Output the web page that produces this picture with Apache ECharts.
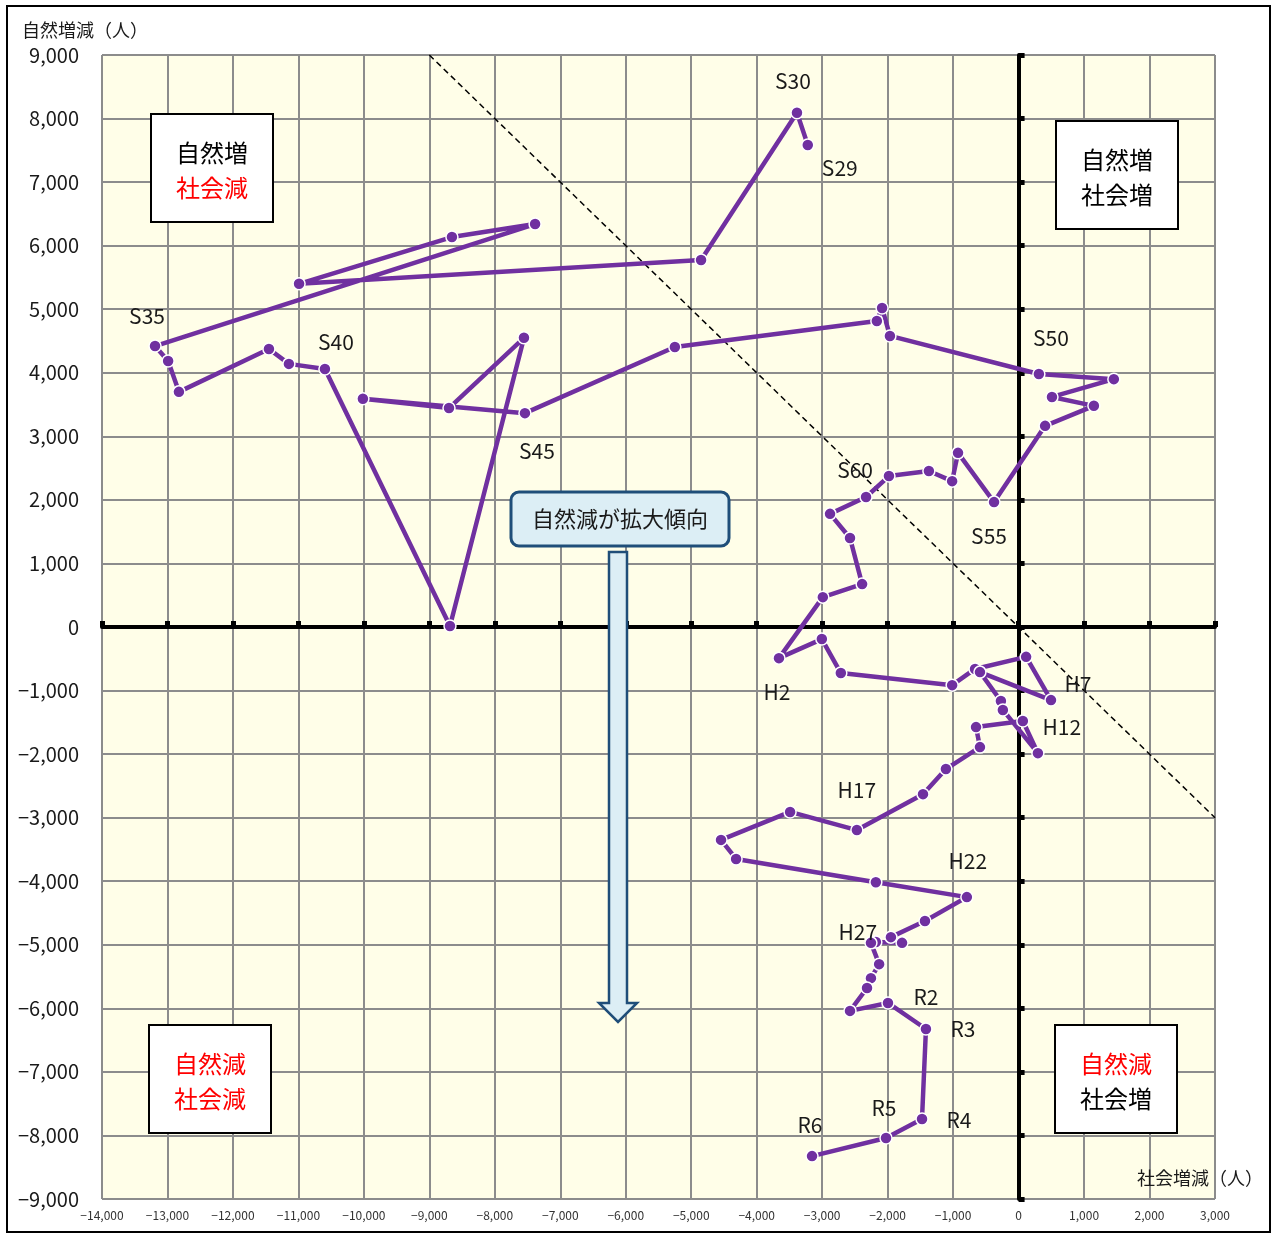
<!DOCTYPE html>
<html>
<head>
<meta charset="utf-8">
<title>自然増減と社会増減の推移</title>
<script src="https://cdn.jsdelivr.net/npm/echarts@6/dist/echarts.min.js"></script>
<style>
html, body { margin: 0; padding: 0; background: #fff; }
#main { width: 1274px; height: 1234px; }
</style>
</head>
<body>
<div id="main"></div>
<script>
// 社会増減（人）
var socialChange = [
  -3220, -3385, -4850, -10990, -8655, -7385, -13190, -12990, -12825, -11450,
  -11145, -10595, -8685, -7555, -8700, -10015, -7540, -5250, -2165, -2085,
  -1965, 310, 1455, 510, 1150, 405, -375, -925, -1015, -1370,
  -1980, -2330, -2880, -2575, -2390, -2990, -3660, -3005, -2715, -1015,
  -665, 115, 495, -590, -270, -240, 295, 65, -650, -590,
  -1110, -1460, -2470, -3490, -4545, -4315, -2180, -790, -1430, -1950,
  -1780, -2180, -2255, -2130, -2255, -2315, -2575, -1995, -1415, -1475,
  -2025, -3155
]
// 自然増減（人）
var naturalChange = [
  7585, 8090, 5775, 5400, 6135, 6340, 4420, 4185, 3700, 4375,
  4140, 4060, 15, 4550, 3445, 3590, 3365, 4405, 4815, 5020,
  4580, 3980, 3900, 3620, 3480, 3165, 1965, 2740, 2295, 2455,
  2375, 2045, 1780, 1400, 675, 470, -490, -190, -725, -915,
  -660, -470, -1150, -710, -1165, -1305, -1985, -1480, -1575, -1890,
  -2235, -2630, -3195, -2910, -3350, -3650, -4015, -4250, -4625, -4880,
  -4970, -4955, -4970, -5305, -5525, -5680, -6040, -5915, -6325, -7740,
  -8040, -8325
]
// 年次ラベル（表示するものだけ）
var pointLabels = [
  'S29', 'S30', '', '', '', '', 'S35', '', '', '',
  '', 'S40', '', '', '', '', 'S45', '', '', '',
  '', 'S50', '', '', '', '', 'S55', '', '', '',
  '', 'S60', '', '', '', '', 'H2', '', '', '',
  '', '', 'H7', '', '', '', '', 'H12', '', '',
  '', '', 'H17', '', '', '', '', 'H22', '', '',
  '', 'H27', '', '', '', '', '', 'R2', 'R3', 'R4',
  'R5', 'R6'
]
// 人口増減ゼロの線（自然増減 + 社会増減 = 0）
var zeroChangeLine = [[-9000, 9000], [3000, -3000]]
var xRange = [-14000, 3000]
var yRange = [-9000, 9000]
var tickStep = 1000

var fontName = '"Noto Sans CJK JP", "Noto Sans", sans-serif'

// ラベルの位置調整（点からのずれ、px）
var labelOffset = {
  S29: [32, 23], S30: [-4, -32], S35: [-8, -30], S40: [11, -27], S45: [12, 38],
  S50: [12, -36], S55: [-5, 34], S60: [-11, -27], H2: [-2, 34], H7: [27, -16],
  H12: [39, 6], H17: [0, -40], H22: [1, -36], H27: [-18, -10], R2: [38, -6],
  R3: [37, 0], R4: [37, 1], R5: [-2, -30], R6: [-2, -31]
}

function fmt (v) {
  var s = Math.abs(v).toLocaleString('en-US')
  return v < 0 ? '\u2212' + s : s
}

function quadrantBox (x, y, line1, color1, line2, color2) {
  return [
    {
      type: 'rect',
      z: 100,
      shape: { x: x, y: y, width: 122, height: 108 },
      style: { fill: '#fff', stroke: '#000', lineWidth: 2 }
    },
    {
      type: 'text',
      z: 101,
      x: x + 61,
      y: y + 39,
      style: { text: line1, fill: color1, font: '24px ' + fontName, align: 'center', verticalAlign: 'middle' }
    },
    {
      type: 'text',
      z: 101,
      x: x + 61,
      y: y + 74,
      style: { text: line2, fill: color2, font: '24px ' + fontName, align: 'center', verticalAlign: 'middle' }
    }
  ]
}

// ラベル付きの点だけ [x, y, index]
function labelData () {
  var list = []
  pointLabels.forEach(function (name, i) {
    if (name) list.push([socialChange[i], naturalChange[i], i])
  })
  return list
}

function renderLabel (params, api) {
  var p = api.coord([api.value(0), api.value(1)])
  var name = pointLabels[api.value(2)]
  var off = labelOffset[name] || [0, -28]
  return {
    type: 'text',
    x: p[0] + off[0],
    y: p[1] + off[1],
    style: {
      text: name,
      fill: '#1a1a1a',
      font: '21px ' + fontName,
      align: 'center',
      verticalAlign: 'middle'
    }
  }
}

function option () {
  var graphics = [
    {
      type: 'rect',
      z: 100,
      shape: { x: 7, y: 6, width: 1263, height: 1226 },
      style: { fill: 'none', stroke: '#000', lineWidth: 2 }
    },
    {
      type: 'text',
      x: 22,
      y: 30,
      style: { text: '自然増減（人）', fill: '#1a1a1a', font: '18px ' + fontName, verticalAlign: 'middle' }
    },
    {
      type: 'text',
      x: 1263,
      y: 1178,
      z: 100,
      style: { text: '社会増減（人）', fill: '#1a1a1a', font: '18px ' + fontName, align: 'right', verticalAlign: 'middle' }
    },
    {
      type: 'polygon',
      z: 100,
      shape: {
        points: [[609, 552], [627, 552], [627, 1003], [637, 1003], [618, 1022], [599, 1003], [609, 1003]]
      },
      style: { fill: '#dceef5', stroke: '#1f4e79', lineWidth: 2.5 }
    },
    {
      type: 'rect',
      z: 100,
      shape: { x: 511, y: 492, width: 218, height: 54, r: 8 },
      style: { fill: '#dceef5', stroke: '#1f4e79', lineWidth: 3 }
    },
    {
      type: 'text',
      z: 101,
      x: 620,
      y: 519,
      style: { text: '自然減が拡大傾向', fill: '#1a1a1a', font: '22px ' + fontName, align: 'center', verticalAlign: 'middle' }
    }
  ]
  graphics = graphics
    .concat(quadrantBox(151, 114, '自然増', '#000', '社会減', '#ff0000'))
    .concat(quadrantBox(1056, 121, '自然増', '#000', '社会増', '#000'))
    .concat(quadrantBox(149, 1025, '自然減', '#ff0000', '社会減', '#ff0000'))
    .concat(quadrantBox(1055, 1025, '自然減', '#ff0000', '社会増', '#000'))

  return {
    animation: false,
    backgroundColor: '#fff',
    textStyle: { fontFamily: fontName },
    grid: {
      left: 102,
      right: 59,
      top: 55,
      bottom: 35,
      show: true,
      backgroundColor: '#fffee8',
      borderWidth: 0,
      containLabel: false,
      outerBoundsMode: 'none'
    },
    xAxis: [
      {
        type: 'value',
        min: xRange[0],
        max: xRange[1],
        interval: tickStep,
        position: 'bottom',
        axisLine: { show: false, onZero: false },
        axisTick: { show: false },
        splitLine: { show: true, lineStyle: { color: '#8c8c8c', width: 2 } },
        axisLabel: { color: '#333', fontSize: 12, margin: 10, formatter: fmt }
      },
      {
        // 太い0の線
        type: 'value',
        min: xRange[0],
        max: xRange[1],
        interval: tickStep,
        axisLine: { show: true, onZero: true, onZeroAxisIndex: 0, lineStyle: { color: '#000', width: 4 } },
        axisTick: { show: true, length: 6, lineStyle: { color: '#000', width: 5 } },
        axisLabel: { show: false },
        splitLine: { show: false }
      }
    ],
    yAxis: [
      {
        type: 'value',
        min: yRange[0],
        max: yRange[1],
        interval: tickStep,
        position: 'left',
        axisLine: { show: false, onZero: false },
        axisTick: { show: false },
        splitLine: { show: true, lineStyle: { color: '#8c8c8c', width: 2 } },
        axisLabel: { color: '#1a1a1a', fontSize: 20, margin: 23, formatter: fmt }
      },
      {
        type: 'value',
        min: yRange[0],
        max: yRange[1],
        interval: tickStep,
        axisLine: { show: true, onZero: true, onZeroAxisIndex: 0, lineStyle: { color: '#000', width: 4 } },
        axisTick: { show: true, length: 6, lineStyle: { color: '#000', width: 5 } },
        axisLabel: { show: false },
        splitLine: { show: false }
      }
    ],
    series: [
      {
        type: 'line',
        xAxisIndex: 0,
        yAxisIndex: 0,
        z: 5,
        symbol: 'circle',
        symbolSize: 12,
        showAllSymbol: true,
        lineStyle: { color: '#7030a0', width: 4.5 },
        itemStyle: { color: '#7030a0', borderColor: '#fff', borderWidth: 1.5 },
        data: socialChange.map(function (x, i) { return [x, naturalChange[i]] }),
        markLine: {
          silent: true,
          symbol: ['none', 'none'],
          label: { show: false },
          lineStyle: { color: '#000', width: 1.5, type: [6, 4] },
          data: [[{ coord: zeroChangeLine[0] }, { coord: zeroChangeLine[1] }]]
        }
      },
      {
        type: 'custom',
        xAxisIndex: 0,
        yAxisIndex: 0,
        z: 6,
        silent: true,
        renderItem: renderLabel,
        data: labelData()
      }
    ],
    graphic: graphics
  }
}

var chart = echarts.init(document.getElementById('main'))
chart.setOption(option(), true)
</script>
</body>
</html>
